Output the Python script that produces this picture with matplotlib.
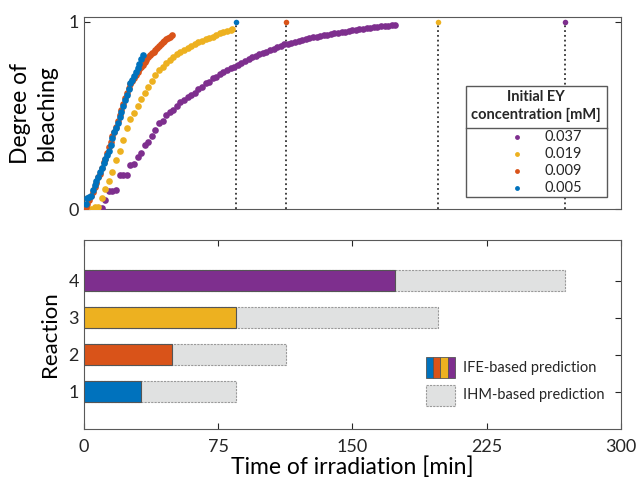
import matplotlib as mpl
import matplotlib.pyplot as plt
from matplotlib.patches import Rectangle

mpl.rcParams.update({
    "font.family": ["Lato", "DejaVu Sans"],
    "font.size": 13,
    "axes.edgecolor": "#595959",
    "text.color": "#262626",
    "xtick.color": "#262626",
    "ytick.color": "#262626",
})

COL = {"blue": "#0072BD", "orange": "#D95319", "yellow": "#EDB120", "purple": "#7E2F8E",
       "gray": "#E0E1E1", "ink": "#262626"}

# bleaching curves, time [min] vs degree of bleaching
t_purple = [6, 8, 10, 12, 14, 16, 18, 20, 22, 24, 26, 28, 30, 32, 34, 36, 38, 40, 42, 44,
            46, 48, 50, 52, 54, 56, 58, 60, 62, 64, 66, 68, 70, 72, 74, 76, 78, 80, 82, 84,
            86, 88, 90, 92, 94, 96, 98, 100, 102, 104, 106, 108, 110, 112, 114, 116, 118, 120,
            122, 124, 126, 128, 130, 132, 134, 136, 138, 140, 142, 144, 146, 148, 150, 152, 154,
            156, 158, 160, 162, 164, 166, 168, 170, 172, 174]
y_purple = [0.0, 0.0, 0.005, 0.05, 0.096, 0.096, 0.10, 0.18, 0.18, 0.18, 0.235, 0.24, 0.28, 0.30,
            0.34, 0.36, 0.39, 0.42, 0.46, 0.47, 0.50, 0.52, 0.53, 0.55, 0.57, 0.58, 0.60, 0.61,
            0.62, 0.64, 0.65, 0.67, 0.68, 0.70, 0.705, 0.72, 0.73, 0.74, 0.75, 0.76, 0.77, 0.78,
            0.79, 0.80, 0.81, 0.815, 0.825, 0.835, 0.84, 0.85, 0.855, 0.865, 0.87, 0.878, 0.882,
            0.888, 0.892, 0.898, 0.902, 0.908, 0.912, 0.916, 0.92, 0.924, 0.927, 0.93, 0.934,
            0.937, 0.94, 0.944, 0.947, 0.95, 0.953, 0.956, 0.959, 0.962, 0.965, 0.967, 0.97,
            0.972, 0.975, 0.977, 0.979, 0.981, 0.984]

t_yellow = [4, 6, 8, 10, 12, 14, 16, 18, 20, 22, 24, 26, 28, 30, 32, 34, 36, 38, 40, 42, 44,
            46, 48, 50, 52, 54, 56, 58, 60, 62, 64, 66, 68, 70, 72, 74, 76, 78, 80, 82, 83]
y_yellow = [0.0, 0.01, 0.01, 0.06, 0.11, 0.15, 0.20, 0.26, 0.31, 0.37, 0.43, 0.48, 0.51, 0.55,
            0.585, 0.62, 0.65, 0.685, 0.715, 0.74, 0.76, 0.78, 0.795, 0.81, 0.825, 0.84, 0.85,
            0.86, 0.87, 0.88, 0.89, 0.897, 0.905, 0.912, 0.92, 0.93, 0.937, 0.943, 0.95, 0.957,
            0.962]

t_orange = [0, 1, 2, 3, 4, 5, 6, 7, 8, 9, 10, 11, 12, 13, 14, 15, 16, 17, 18, 19, 20, 21, 22,
            23, 24, 25, 26, 27, 28, 29, 30, 31, 32, 33, 34, 35, 36, 37, 38, 39, 40, 41, 42, 43,
            44, 45, 46, 47, 48, 49]
y_orange = [0.0, 0.01, 0.03, 0.05, 0.07, 0.09, 0.12, 0.14, 0.17, 0.19, 0.22, 0.25, 0.27, 0.30,
            0.33, 0.36, 0.39, 0.41, 0.44, 0.47, 0.50, 0.53, 0.56, 0.59, 0.62, 0.645, 0.665,
            0.685, 0.70, 0.715, 0.73, 0.745, 0.76, 0.77, 0.785, 0.795, 0.81, 0.82, 0.83, 0.84,
            0.85, 0.86, 0.87, 0.88, 0.89, 0.897, 0.905, 0.913, 0.92, 0.928]

t_blue = [1, 2, 3, 4, 5, 6, 7, 8, 9, 10, 11, 12, 13, 14, 15, 16, 17, 18, 19, 20, 21, 22, 23,
          24, 25, 26, 27, 28, 29, 30, 31, 32, 33]
y_blue = [0.03, 0.06, 0.065, 0.07, 0.10, 0.13, 0.15, 0.17, 0.20, 0.22, 0.245, 0.27, 0.29, 0.31,
          0.34, 0.38, 0.41, 0.43, 0.46, 0.49, 0.52, 0.55, 0.58, 0.61, 0.64, 0.67, 0.69, 0.71,
          0.73, 0.75, 0.775, 0.80, 0.82]

concentrations = ["0.037", "0.019", "0.009", "0.005"]

# predicted irradiation times [min], reactions 1..4
reactions = [1, 2, 3, 4]
ife_time = [32, 49, 85, 174]
ihm_time = [85, 113, 198, 269]

series = [
    (t_purple, y_purple, COL["purple"]),
    (t_yellow, y_yellow, COL["yellow"]),
    (t_orange, y_orange, COL["orange"]),
    (t_blue, y_blue, COL["blue"]),
]
bar_colors = [COL["blue"], COL["orange"], COL["yellow"], COL["purple"]]

fig = plt.figure(figsize=(6.4, 4.83), dpi=100, facecolor="white")
ax1 = fig.add_axes([0.131, 0.567, 0.839, 0.398])
ax2 = fig.add_axes([0.131, 0.112, 0.839, 0.391])

# top panel
for t, y, c in series:
    ax1.plot(t, y, "o", color=c, ms=4.8, mew=0, zorder=3)
for t_end, c in zip(ihm_time, bar_colors):
    ax1.plot([t_end, t_end], [0, 1], ":", color="#333333", lw=1.3, zorder=2)
    ax1.plot([t_end], [1], "o", color=c, ms=4, mew=0, zorder=4)
ax1.set_xlim(0, 300)
ax1.set_ylim(0, 1.025)
ax1.set_xticks([])
ax1.set_yticks([0, 1])
ax1.tick_params(direction="in", length=4, right=True, labelsize=13)
ax1.set_ylabel("Degree of\nbleaching", fontsize=16.5, labelpad=8, linespacing=1.3)

# legend box, drawn by hand in axes coords
tr = ax1.transAxes
ax1.add_patch(Rectangle((0.711, 0.063), 0.263, 0.576, transform=tr, fc="white",
                        ec="#595959", lw=1.0, zorder=6))
ax1.plot([0.711, 0.974], [0.424, 0.424], transform=tr, color="#595959", lw=1.0, zorder=7)
ax1.text(0.8425, 0.585, "Initial EY", transform=tr, ha="center", va="center",
         fontsize=10.5, weight="bold", zorder=7)
ax1.text(0.8425, 0.49, "concentration [mM]", transform=tr, ha="center", va="center",
         fontsize=10.5, weight="bold", zorder=7)
for i, ((t, y, c), lab) in enumerate(zip(series, concentrations)):
    yy = 0.377 - i * 0.089
    ax1.plot([0.806], [yy], "o", transform=tr, color=c, ms=3.5, mew=0, zorder=7)
    ax1.text(0.857, yy, lab, transform=tr, ha="left", va="center", fontsize=10.5, zorder=7)

# bottom panel
ax2.barh(reactions, ihm_time, height=0.57, color=COL["gray"], edgecolor="#9a9a9a",
         linewidth=0.8, linestyle=(0, (2, 1)), zorder=2)
ax2.barh(reactions, ife_time, height=0.57, color=bar_colors, edgecolor="#555555",
         linewidth=0.8, zorder=3)
ax2.set_xlim(0, 300)
ax2.set_ylim(0, 5.1)
ax2.set_xticks([0, 75, 150, 225, 300])
ax2.set_yticks(reactions)
ax2.tick_params(direction="in", length=4, top=True, right=True, labelsize=13)
ax2.tick_params(axis="x", pad=7)
ax2.set_xlabel("Time of irradiation [min]", fontsize=16.5, labelpad=1)
ax2.set_ylabel("Reaction", fontsize=16, labelpad=6)

tr2 = ax2.transAxes
x0, w, y0, h = 0.637, 0.054, 0.270, 0.111
for i, c in enumerate(bar_colors):
    ax2.add_patch(Rectangle((x0 + i * w / 4, y0), w / 4, h, transform=tr2, fc=c,
                            ec="#555555", lw=0.6, zorder=6))
ax2.add_patch(Rectangle((x0, 0.122), w, h, transform=tr2, fc=COL["gray"], ec="#9a9a9a",
                        lw=0.8, ls=(0, (2, 1)), zorder=6))
ax2.text(0.706, 0.325, "IFE-based prediction", transform=tr2, ha="left", va="center", fontsize=10.5)
ax2.text(0.706, 0.177, "IHM-based prediction", transform=tr2, ha="left", va="center", fontsize=10.5)

fig.savefig("out.png", dpi=100)
